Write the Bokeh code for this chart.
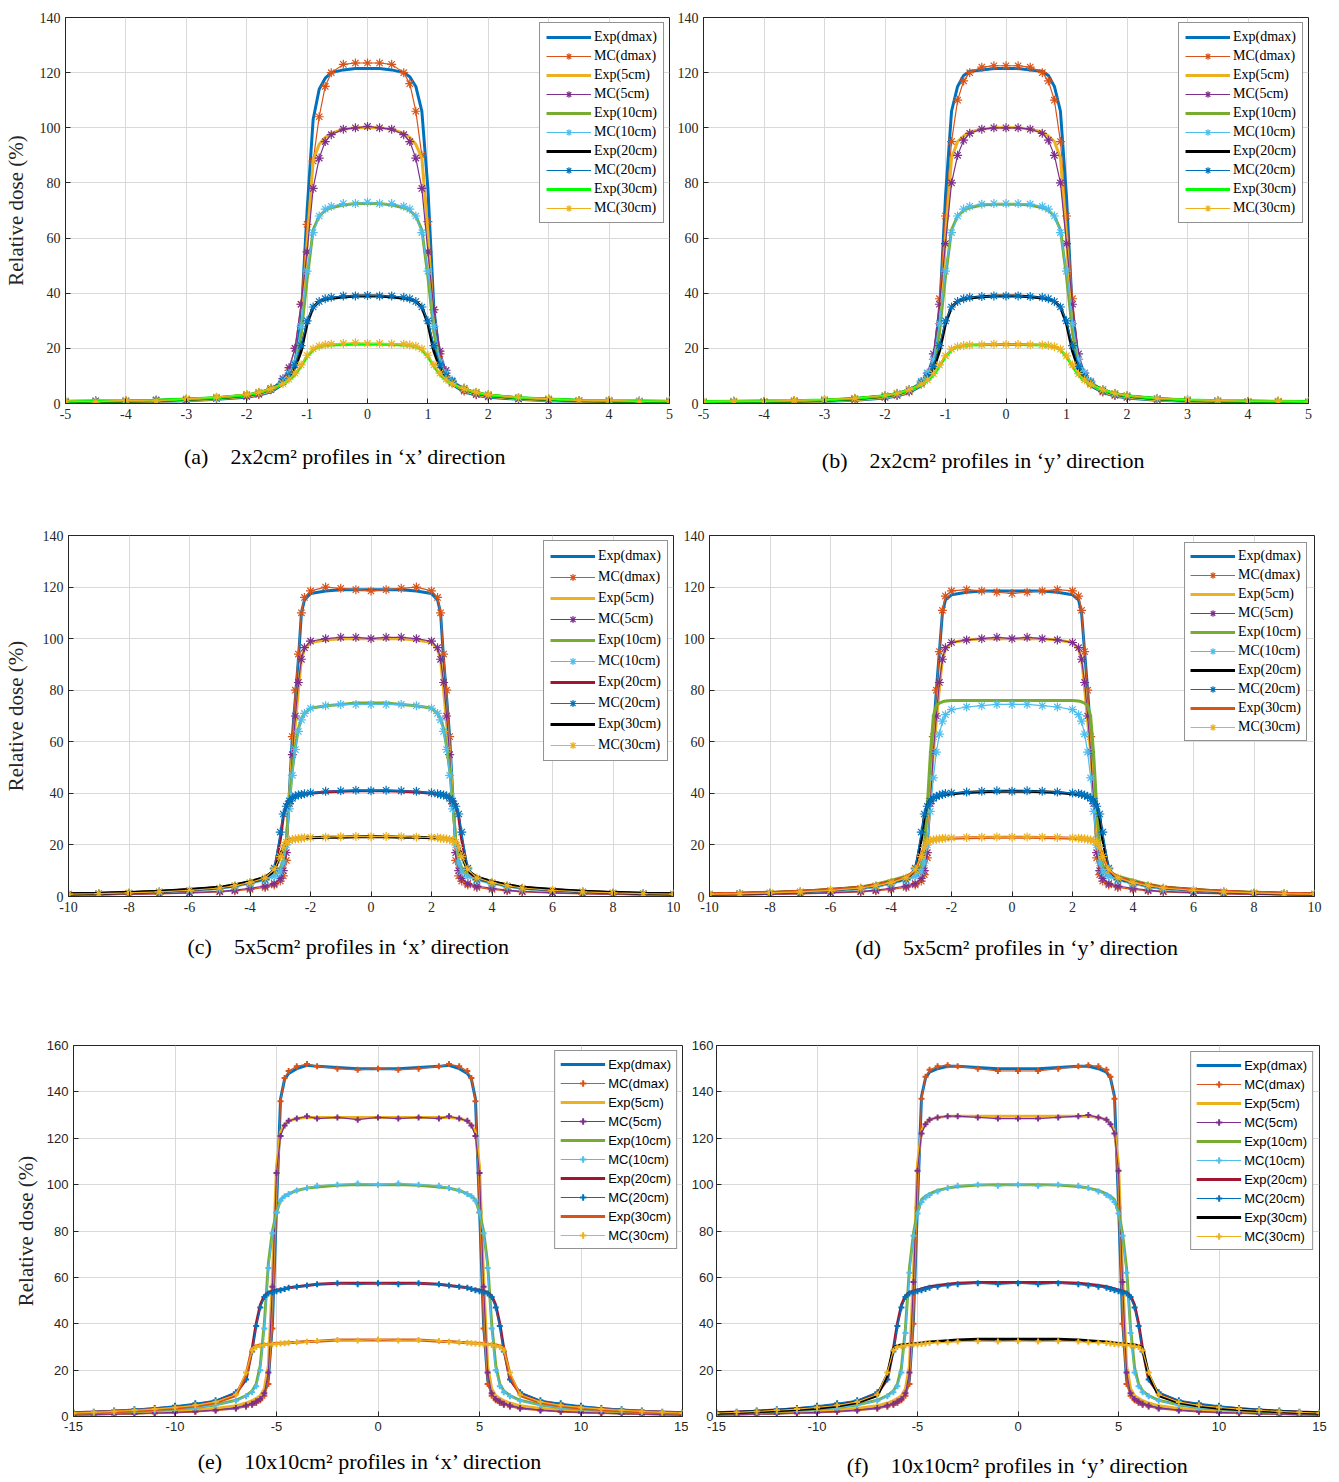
from bokeh.plotting import figure
from bokeh.models import Range1d, Legend, LegendItem, FixedTicker
from bokeh.layouts import column, row
from bokeh.embed import file_html
from bokeh.resources import INLINE

# ---------------- data ----------------
LABELS = ["Exp(dmax)", "MC(dmax)", "Exp(5cm)", "MC(5cm)", "Exp(10cm)", "MC(10cm)",
          "Exp(20cm)", "MC(20cm)", "Exp(30cm)", "MC(30cm)"]

# (a) / (b) 2x2 cm^2
x_ab = [-5, -4.5, -4, -3.5, -3, -2.5, -2, -1.8, -1.6, -1.4, -1.3, -1.2, -1.1, -1.0, -0.9, -0.8, -0.7, -0.6, -0.4, -0.2, 0,
        0.2, 0.4, 0.6, 0.7, 0.8, 0.9, 1.0, 1.1, 1.2, 1.3, 1.4, 1.6, 1.8, 2, 2.5, 3, 3.5, 4, 4.5, 5]
a_exp_dmax = [0.4, 0.5, 0.6, 0.8, 1.0, 1.5, 2.3, 3.0, 4.2, 7, 10, 15, 30, 70, 103, 114, 118, 120, 121, 121.5, 121.5,
              121.5, 121, 120, 118.5, 115, 106, 78, 34, 16, 10, 7, 4.2, 3.0, 2.3, 1.5, 1.0, 0.8, 0.6, 0.5, 0.4]
a_mc_dmax = [0.8, 0.5, 1.0, 0.6, 1.2, 1.8, 2.5, 3.3, 5, 8, 12, 20, 36, 65, 88, 104, 115, 120, 123, 123.5, 123.5,
             123.5, 123, 120, 116, 106, 90, 66, 34, 18, 11, 7.5, 4.5, 3.2, 2.4, 1.6, 1.1, 0.7, 0.9, 0.5, 0.8]
a_exp_5 = [0.5, 0.6, 0.7, 0.9, 1.2, 1.7, 2.6, 3.3, 4.6, 7.5, 10, 14, 24, 58, 88, 94, 96.5, 98, 99.5, 100, 100,
           100, 99.5, 98, 96.5, 94, 89, 62, 26, 14, 10, 7.5, 4.6, 3.3, 2.6, 1.7, 1.2, 0.9, 0.7, 0.6, 0.5]
a_mc_5 = [0.3, 0.8, 0.6, 1.1, 1.3, 1.9, 2.7, 3.5, 5.2, 9, 13, 20, 36, 55, 78, 89, 95, 97.5, 99.5, 100, 100.5,
          100, 99.5, 97.5, 95, 89, 78, 55, 34, 19, 12, 8, 5, 3.4, 2.6, 1.8, 1.3, 1.0, 0.6, 0.8, 0.4]
a_exp_10 = [0.6, 0.7, 0.8, 1.0, 1.4, 1.9, 2.9, 3.7, 5.2, 8, 10.5, 14, 25, 45, 63, 68, 70, 71, 72, 72.5, 72.5,
            72.5, 72, 71, 70, 68, 63, 46, 26, 14, 10.5, 8, 5.2, 3.7, 2.9, 1.9, 1.4, 1.0, 0.8, 0.7, 0.6]
a_mc_10 = [0.9, 0.5, 1.0, 0.8, 1.6, 2.0, 3.1, 3.9, 5.5, 8.5, 11, 15, 28, 48, 62, 68, 70.5, 71.5, 72.5, 72.5, 73,
           72.5, 72.5, 71.5, 70.5, 68, 62, 48, 28, 15, 11, 8.5, 5.5, 3.9, 3.1, 2.1, 1.5, 1.1, 0.7, 1.0, 0.6]
a_exp_20 = [0.7, 0.8, 0.9, 1.1, 1.5, 2.0, 3.0, 3.8, 5.2, 7.5, 9.5, 13, 19, 29, 35, 37, 37.8, 38.2, 38.6, 39, 39,
            39, 38.6, 38.2, 37.8, 37, 35, 29, 19, 13, 9.5, 7.5, 5.2, 3.8, 3.0, 2.0, 1.5, 1.1, 0.9, 0.8, 0.7]
a_mc_20 = [0.5, 1.0, 0.7, 1.3, 1.4, 2.2, 3.2, 4.0, 5.5, 8, 10, 14, 21, 30, 35, 37, 38, 38.5, 39, 39, 39.2,
           39, 39, 38.5, 38, 37, 35, 30, 21, 14, 10, 8, 5.5, 4.0, 3.1, 2.1, 1.6, 1.0, 1.1, 0.6, 0.9]
a_exp_30 = [0.8, 0.9, 1.0, 1.2, 1.6, 2.1, 3.1, 3.9, 5.2, 7, 8.5, 10.5, 13.5, 17, 19.5, 20.5, 21, 21.2, 21.4, 21.5, 21.5,
            21.5, 21.4, 21.2, 21, 20.5, 19.5, 17, 13.5, 10.5, 8.5, 7, 5.2, 3.9, 3.1, 2.1, 1.6, 1.2, 1.0, 0.9, 0.8]
a_mc_30 = [1.0, 0.6, 1.2, 0.9, 1.7, 2.3, 3.3, 4.1, 5.4, 7.2, 8.8, 11, 14, 17.5, 19.8, 20.8, 21.3, 21.5, 21.8, 22, 21.8,
           21.8, 21.6, 21.5, 21.2, 20.8, 19.8, 17.5, 14, 11, 8.8, 7.2, 5.4, 4.1, 3.2, 2.2, 1.7, 1.1, 1.2, 0.7, 1.0]

b_exp_dmax = [0.3, 0.4, 0.5, 0.6, 0.8, 1.2, 2.0, 2.7, 4.0, 6.5, 9.5, 15, 32, 75, 106, 115, 119, 120.5, 121, 121.5, 121.5,
              121.5, 121, 120.5, 119, 115, 106, 75, 32, 15, 9.5, 6.5, 4.0, 2.7, 2.0, 1.2, 0.8, 0.6, 0.5, 0.4, 0.3]
b_mc_dmax = [0.3, 0.5, 0.4, 0.7, 0.9, 1.3, 2.2, 2.9, 4.2, 7, 10, 16, 38, 68, 95, 110, 117, 120, 122, 122.5, 122.5,
             122.5, 122, 120, 117, 110, 95, 68, 38, 16, 10, 7, 4.2, 2.9, 2.2, 1.3, 0.9, 0.7, 0.4, 0.5, 0.3]
b_exp_5 = [0.4, 0.5, 0.6, 0.7, 0.9, 1.4, 2.3, 3.0, 4.3, 7, 9.5, 14, 25, 60, 89, 95, 97, 98.5, 99.5, 100, 100,
           100, 99.5, 98.5, 97, 95, 89, 60, 25, 14, 9.5, 7, 4.3, 3.0, 2.3, 1.4, 0.9, 0.7, 0.6, 0.5, 0.4]
b_mc_5 = [0.4, 0.6, 0.5, 0.8, 1.0, 1.5, 2.4, 3.1, 4.5, 8, 11, 18, 36, 58, 80, 90, 95.5, 98, 99.5, 100, 100,
          100, 99.5, 98, 95.5, 90, 80, 58, 36, 18, 11, 8, 4.5, 3.1, 2.4, 1.5, 1.0, 0.8, 0.5, 0.6, 0.4]
b_exp_10 = [0.5, 0.6, 0.7, 0.8, 1.1, 1.6, 2.6, 3.4, 4.8, 7.5, 10, 14, 26, 46, 63, 68, 70, 71, 72, 72.3, 72.3,
            72.3, 72, 71, 70, 68, 63, 46, 26, 14, 10, 7.5, 4.8, 3.4, 2.6, 1.6, 1.1, 0.8, 0.7, 0.6, 0.5]
b_mc_10 = [0.5, 0.7, 0.6, 0.9, 1.2, 1.7, 2.7, 3.5, 5, 8, 11, 16, 29, 48, 62, 68, 70.5, 71.5, 72.3, 72.5, 72.5,
           72.5, 72.3, 71.5, 70.5, 68, 62, 48, 29, 16, 11, 8, 5, 3.5, 2.7, 1.7, 1.2, 0.9, 0.6, 0.7, 0.5]
b_exp_20 = [0.6, 0.7, 0.8, 0.9, 1.2, 1.7, 2.7, 3.5, 4.9, 7, 9, 12.5, 19, 29, 35, 37, 37.8, 38.3, 38.7, 39, 39,
            39, 38.7, 38.3, 37.8, 37, 35, 29, 19, 12.5, 9, 7, 4.9, 3.5, 2.7, 1.7, 1.2, 0.9, 0.8, 0.7, 0.6]
b_mc_20 = [0.6, 0.8, 0.7, 1.0, 1.3, 1.8, 2.8, 3.6, 5, 7.5, 9.5, 13.5, 21, 30, 35, 37, 38, 38.5, 38.8, 39, 39,
           39, 38.8, 38.5, 38, 37, 35, 30, 21, 13.5, 9.5, 7.5, 5, 3.6, 2.8, 1.8, 1.3, 1.0, 0.7, 0.8, 0.6]
b_exp_30 = [0.7, 0.8, 0.9, 1.0, 1.3, 1.8, 2.8, 3.6, 4.9, 6.8, 8.3, 10.3, 13.5, 17, 19.5, 20.5, 21, 21.2, 21.3, 21.4, 21.4,
            21.4, 21.3, 21.2, 21, 20.5, 19.5, 17, 13.5, 10.3, 8.3, 6.8, 4.9, 3.6, 2.8, 1.8, 1.3, 1.0, 0.9, 0.8, 0.7]
b_mc_30 = [0.7, 0.9, 0.8, 1.1, 1.4, 1.9, 2.9, 3.7, 5, 7, 8.6, 10.8, 14, 17.3, 19.7, 20.6, 21, 21.2, 21.3, 21.5, 21.4,
           21.4, 21.3, 21.2, 21, 20.6, 19.7, 17.3, 14, 10.8, 8.6, 7, 5, 3.7, 2.9, 1.9, 1.4, 1.1, 0.8, 0.9, 0.7]

# (c) / (d) 5x5 cm^2
x_cd = [-10, -9, -8, -7, -6, -5, -4.5, -4, -3.5, -3.2, -3.0, -2.9, -2.8, -2.7, -2.6, -2.5, -2.4, -2.3, -2.2, -2.0, -1.5, -1.0, -0.5, 0,
        0.5, 1, 1.5, 2, 2.2, 2.3, 2.4, 2.5, 2.6, 2.7, 2.8, 2.9, 3.0, 3.2, 3.5, 4, 4.5, 5, 6, 7, 8, 9, 10]
c_exp_dmax = [0.8, 1.0, 1.3, 1.7, 2.3, 3.2, 4.2, 5.5, 7, 8.5, 10, 13, 20, 40, 62, 77, 92, 110, 115, 117.5, 118.5, 119, 119, 119,
              119, 119, 118.5, 117.5, 115, 110, 92, 77, 62, 40, 20, 13, 10, 8.5, 7, 5.5, 4.2, 3.2, 2.3, 1.7, 1.3, 1.0, 0.8]
c_mc_dmax = [0.5, 0.6, 0.8, 1.0, 1.3, 1.8, 2.2, 2.8, 3.5, 4.5, 6, 8, 14, 36, 62, 80, 94, 110, 116, 118.5, 120, 119.5, 119, 118.5,
             119, 119.5, 120, 118.5, 116, 110, 94, 80, 62, 36, 14, 8, 6, 4.5, 3.5, 2.8, 2.2, 1.8, 1.3, 1.0, 0.8, 0.6, 0.5]
c_exp_5 = [0.9, 1.1, 1.4, 1.8, 2.4, 3.3, 4.3, 5.6, 7.2, 8.8, 10.5, 13.5, 21, 38, 55, 67, 80, 92, 96, 98.5, 99.5, 100, 100, 100,
           100, 100, 99.5, 98.5, 96, 92, 80, 67, 55, 38, 21, 13.5, 10.5, 8.8, 7.2, 5.6, 4.3, 3.3, 2.4, 1.8, 1.4, 1.1, 0.9]
c_mc_5 = [0.6, 0.7, 0.9, 1.1, 1.5, 2.0, 2.5, 3.2, 4.0, 5, 7, 10, 17, 36, 55, 70, 83, 92, 96.5, 99, 100, 100.5, 100.5, 100,
          100.5, 100.5, 100, 99, 96.5, 92, 83, 70, 55, 36, 17, 10, 7, 5, 4.0, 3.2, 2.5, 2.0, 1.5, 1.1, 0.9, 0.7, 0.6]
c_exp_10 = [1.0, 1.2, 1.5, 1.9, 2.6, 3.5, 4.5, 5.8, 7.4, 9, 11, 14, 22, 36, 49, 58, 65, 69, 71, 73, 74, 74.5, 75, 75,
            75, 74.5, 74, 73, 71, 69, 65, 58, 49, 36, 22, 14, 11, 9, 7.4, 5.8, 4.5, 3.5, 2.6, 1.9, 1.5, 1.2, 1.0]
c_mc_10 = [0.8, 1.0, 1.2, 1.6, 2.1, 2.9, 3.7, 4.8, 6.2, 7.8, 9.5, 13, 20, 34, 47, 57, 64, 68.5, 71, 73, 74, 74.5, 74.5, 74.5,
           74.5, 74.5, 74, 73, 71, 68.5, 64, 57, 47, 34, 20, 13, 9.5, 7.8, 6.2, 4.8, 3.7, 2.9, 2.1, 1.6, 1.2, 1.0, 0.8]
c_exp_20 = [1.0, 1.2, 1.5, 1.9, 2.6, 3.5, 4.4, 5.6, 7.0, 10, 22, 31, 35.5, 37.5, 38.3, 38.8, 39.2, 39.5, 39.7, 40, 40.5, 40.8, 41, 41,
            41, 40.8, 40.5, 40, 39.7, 39.5, 39.2, 38.8, 38.3, 37.5, 35.5, 31, 22, 10, 7.0, 5.6, 4.4, 3.5, 2.6, 1.9, 1.5, 1.2, 1.0]
c_mc_20 = [0.9, 1.1, 1.3, 1.7, 2.3, 3.1, 4.0, 5.2, 6.6, 11, 25, 32, 35, 37, 38, 39, 39.4, 39.6, 39.8, 40.2, 40.8, 41, 41.2, 41,
           41.2, 41, 40.8, 40.2, 39.8, 39.6, 39.4, 39, 38, 37, 35, 32, 25, 11, 6.6, 5.2, 4.0, 3.1, 2.3, 1.7, 1.3, 1.1, 0.9]
c_exp_30 = [1.1, 1.3, 1.6, 2.0, 2.7, 3.6, 4.5, 5.7, 7.5, 10, 16, 19, 21.3, 22, 22.2, 22.4, 22.5, 22.6, 22.7, 22.8, 23, 23, 23.2, 23.2,
            23.2, 23, 23, 22.8, 22.7, 22.6, 22.5, 22.4, 22.2, 22, 21.3, 19, 16, 10, 7.5, 5.7, 4.5, 3.6, 2.7, 2.0, 1.6, 1.3, 1.1]
c_mc_30 = [0.9, 1.1, 1.4, 1.8, 2.4, 3.3, 4.2, 5.4, 7.2, 10.5, 15.5, 19, 21, 21.8, 22.1, 22.3, 22.5, 22.6, 22.8, 22.9, 23, 23.2, 23.3, 23.2,
           23.3, 23.2, 23, 22.9, 22.8, 22.6, 22.5, 22.3, 22.1, 21.8, 21, 19, 15.5, 10.5, 7.2, 5.4, 4.2, 3.3, 2.4, 1.8, 1.4, 1.1, 0.9]

d_exp_dmax = [0.7, 0.9, 1.2, 1.6, 2.2, 3.1, 4.0, 5.2, 6.8, 8.2, 10, 13, 20, 40, 63, 80, 95, 110, 115, 117, 118, 118.5, 118.5, 118.5,
              118.5, 118.5, 118, 117, 115, 110, 95, 80, 63, 40, 20, 13, 10, 8.2, 6.8, 5.2, 4.0, 3.1, 2.2, 1.6, 1.2, 0.9, 0.7]
d_mc_dmax = [0.5, 0.6, 0.8, 1.0, 1.3, 1.8, 2.2, 2.8, 3.5, 4.5, 6, 8.5, 15, 38, 62, 80, 95, 111, 116.5, 118.5, 119, 118.5, 118, 117.5,
             118, 118.5, 119, 118.5, 116.5, 111, 95, 80, 62, 38, 15, 8.5, 6, 4.5, 3.5, 2.8, 2.2, 1.8, 1.3, 1.0, 0.8, 0.6, 0.5]
d_exp_5 = [0.9, 1.1, 1.4, 1.8, 2.4, 3.3, 4.3, 5.6, 7.2, 8.8, 10.5, 13.5, 21, 38, 56, 68, 81, 92, 96, 98.5, 99.5, 100, 100, 100,
           100, 100, 99.5, 98.5, 96, 92, 81, 68, 56, 38, 21, 13.5, 10.5, 8.8, 7.2, 5.6, 4.3, 3.3, 2.4, 1.8, 1.4, 1.1, 0.9]
d_mc_5 = [0.6, 0.7, 0.9, 1.1, 1.5, 2.0, 2.5, 3.2, 4.0, 5, 7, 10, 17, 36, 56, 70, 83, 92, 96.5, 98.5, 99.5, 100, 100.5, 100,
          100.5, 100, 99.5, 98.5, 96.5, 92, 83, 70, 56, 36, 17, 10, 7, 5, 4.0, 3.2, 2.5, 2.0, 1.5, 1.1, 0.9, 0.7, 0.6]
d_exp_10 = [1.1, 1.3, 1.6, 2.0, 2.7, 3.7, 4.8, 6.2, 7.9, 9.5, 12, 20, 35, 55, 70, 74, 75, 75.5, 75.8, 76, 76, 76, 76, 76,
            76, 76, 76, 76, 75.8, 75.5, 75, 74, 70, 55, 35, 20, 12, 9.5, 7.9, 6.2, 4.8, 3.7, 2.7, 2.0, 1.6, 1.3, 1.1]
d_mc_10 = [0.8, 1.0, 1.2, 1.6, 2.1, 2.9, 3.7, 4.8, 6.2, 7.8, 9.5, 13, 20, 33, 46, 56, 63, 68, 70.5, 72.5, 73.5, 74, 74.5, 74.5,
           74.5, 74, 73.5, 72.5, 70.5, 68, 63, 56, 46, 33, 20, 13, 9.5, 7.8, 6.2, 4.8, 3.7, 2.9, 2.1, 1.6, 1.2, 1.0, 0.8]
d_exp_20 = [1.0, 1.2, 1.5, 1.9, 2.6, 3.5, 4.4, 5.6, 7.0, 10, 22, 31, 35.5, 37.5, 38.2, 38.6, 39, 39.4, 39.6, 39.8, 40.3, 40.6, 40.8, 40.8,
            40.8, 40.6, 40.3, 39.8, 39.6, 39.4, 39, 38.6, 38.2, 37.5, 35.5, 31, 22, 10, 7.0, 5.6, 4.4, 3.5, 2.6, 1.9, 1.5, 1.2, 1.0]
d_mc_20 = [0.9, 1.1, 1.3, 1.7, 2.3, 3.1, 4.0, 5.2, 6.6, 11, 25, 32, 35, 37, 38, 38.8, 39.3, 39.7, 39.9, 40.1, 40.5, 40.8, 41, 40.8,
           41, 40.8, 40.5, 40.1, 39.9, 39.7, 39.3, 38.8, 38, 37, 35, 32, 25, 11, 6.6, 5.2, 4.0, 3.1, 2.3, 1.7, 1.3, 1.1, 0.9]
d_exp_30 = [1.1, 1.3, 1.6, 2.0, 2.7, 3.6, 4.5, 5.7, 7.5, 10, 16, 19, 21.2, 21.8, 22, 22.2, 22.3, 22.4, 22.5, 22.6, 22.8, 22.9, 23, 23,
            23, 22.9, 22.8, 22.6, 22.5, 22.4, 22.3, 22.2, 22, 21.8, 21.2, 19, 16, 10, 7.5, 5.7, 4.5, 3.6, 2.7, 2.0, 1.6, 1.3, 1.1]
d_mc_30 = [0.9, 1.1, 1.4, 1.8, 2.4, 3.3, 4.2, 5.4, 7.2, 10.5, 15.5, 19, 21, 21.7, 22, 22.2, 22.4, 22.5, 22.6, 22.7, 22.9, 23, 23.1, 23,
           23.1, 23, 22.9, 22.7, 22.6, 22.5, 22.4, 22.2, 22, 21.7, 21, 19, 15.5, 10.5, 7.2, 5.4, 4.2, 3.3, 2.4, 1.8, 1.4, 1.1, 0.9]

# (e) / (f) 10x10 cm^2
x_ef = [-15, -14, -13, -12, -11, -10, -9, -8, -7, -6.5, -6.2, -6.0, -5.8, -5.6, -5.4, -5.2, -5.0, -4.8, -4.6, -4.4, -4, -3.5, -3, -2, -1, 0,
        1, 2, 3, 3.5, 4, 4.4, 4.6, 4.8, 5.0, 5.2, 5.4, 5.6, 5.8, 6.0, 6.2, 6.5, 7, 8, 9, 10, 11, 12, 13, 14, 15]
e_exp_dmax = [1.0, 1.1, 1.3, 1.5, 1.8, 2.1, 2.6, 3.2, 4.2, 5.2, 6, 7, 8, 10, 16, 40, 90, 137, 145.5, 148, 150, 151.5, 151, 150.5, 150, 150,
              150, 150.5, 151, 151.5, 150, 148, 145.5, 137, 90, 40, 16, 10, 8, 7, 6, 5.2, 4.2, 3.2, 2.6, 2.1, 1.8, 1.5, 1.3, 1.1, 1.0]
e_mc_dmax = [0.6, 0.8, 0.9, 1.1, 1.3, 1.6, 2.0, 2.5, 3.3, 4.2, 5, 5.8, 7, 9, 14, 38, 88, 136, 146, 149, 151, 152, 151, 150, 149.5, 150,
             149.5, 150, 151, 152, 151, 149, 146, 136, 88, 38, 14, 9, 7, 5.8, 5, 4.2, 3.3, 2.5, 2.0, 1.6, 1.3, 1.1, 0.9, 0.8, 0.6]
e_exp_5 = [1.1, 1.2, 1.4, 1.6, 1.9, 2.3, 2.8, 3.5, 4.6, 5.8, 6.8, 7.8, 9, 12, 22, 60, 108, 122.5, 126, 127.5, 128.5, 129, 129, 129, 129, 129,
           129, 129, 129, 129, 128.5, 127.5, 126, 122.5, 108, 60, 22, 12, 9, 7.8, 6.8, 5.8, 4.6, 3.5, 2.8, 2.3, 1.9, 1.6, 1.4, 1.2, 1.1]
e_mc_5 = [0.7, 0.9, 1.0, 1.2, 1.5, 1.8, 2.2, 2.8, 3.7, 4.7, 5.5, 6.5, 7.5, 10, 19, 56, 105, 121, 125.5, 127.5, 128.5, 129.5, 128.5, 129, 128, 129,
          128.5, 129, 128.5, 129.5, 128.5, 127.5, 125.5, 121, 105, 56, 19, 10, 7.5, 6.5, 5.5, 4.7, 3.7, 2.8, 2.2, 1.8, 1.5, 1.2, 1.0, 0.9, 0.7]
e_exp_10 = [1.4, 1.6, 1.9, 2.3, 2.7, 3.2, 3.9, 5, 7, 9, 11, 14, 22, 40, 66, 80, 88, 93.5, 95, 96, 97.5, 98.5, 99, 99.7, 100, 100,
            100, 99.7, 99, 98.5, 97.5, 96, 95, 93.5, 88, 80, 66, 40, 22, 14, 11, 9, 7, 5, 3.9, 3.2, 2.7, 2.3, 1.9, 1.6, 1.4]
e_mc_10 = [1.3, 1.5, 1.8, 2.2, 2.6, 3.1, 3.8, 4.9, 6.8, 8.7, 10.5, 13, 20, 38, 64, 79, 88, 93, 95, 96, 97.5, 98.5, 99.5, 100, 100.5, 100,
           100.5, 100, 99.5, 98.5, 97.5, 96, 95, 93, 88, 79, 64, 38, 20, 13, 10.5, 8.7, 6.8, 4.9, 3.8, 3.1, 2.6, 2.2, 1.8, 1.5, 1.3]
e_exp_20 = [1.6, 1.9, 2.3, 2.8, 3.3, 4, 5, 6.5, 10, 16, 29, 40, 48, 52, 53.5, 54, 54.5, 54.8, 55, 55.5, 56, 56.5, 57, 57.5, 57.5, 57.5,
            57.5, 57.5, 57, 56.5, 56, 55.5, 55, 54.8, 54.5, 54, 53.5, 52, 48, 40, 29, 16, 10, 6.5, 5, 4, 3.3, 2.8, 2.3, 1.9, 1.6]
e_mc_20 = [1.7, 2.1, 2.6, 3.1, 3.7, 4.6, 5.7, 7, 10.5, 16, 28, 39, 47, 51.5, 53, 53.5, 54, 54.5, 55, 55.5, 56, 56.5, 57, 57.5, 57, 57.5,
           57, 57.5, 57, 56.5, 56, 55.5, 55, 54.5, 54, 53.5, 53, 51.5, 47, 39, 28, 16, 10.5, 7, 5.7, 4.6, 3.7, 3.1, 2.6, 2.1, 1.7]
e_exp_30 = [1.4, 1.7, 2.1, 2.5, 3, 3.6, 4.5, 6, 9, 18, 29.5, 30.5, 30.8, 31, 31.2, 31.4, 31.5, 31.6, 31.7, 31.8, 32, 32.3, 32.5, 33, 33, 33,
            33, 33, 32.5, 32.3, 32, 31.8, 31.7, 31.6, 31.5, 31.4, 31.2, 31, 30.8, 30.5, 29.5, 18, 9, 6, 4.5, 3.6, 3, 2.5, 2.1, 1.7, 1.4]
e_mc_30 = [1.5, 1.8, 2.2, 2.7, 3.2, 3.9, 4.8, 6.3, 9.5, 19, 28.5, 30, 30.5, 30.8, 31, 31.2, 31.3, 31.5, 31.6, 31.8, 32, 32.2, 32.6, 33, 32.8, 33.2,
           32.8, 33, 32.6, 32.2, 32, 31.8, 31.6, 31.5, 31.3, 31.2, 31, 30.8, 30.5, 30, 28.5, 19, 9.5, 6.3, 4.8, 3.9, 3.2, 2.7, 2.2, 1.8, 1.5]

f_exp_dmax = [1.0, 1.1, 1.3, 1.5, 1.8, 2.1, 2.6, 3.2, 4.2, 5.2, 6, 7, 8, 10, 16, 42, 92, 138, 146, 148.5, 150, 151, 151, 150.5, 150, 150,
              150, 150.5, 151, 151, 150, 148.5, 146, 138, 92, 42, 16, 10, 8, 7, 6, 5.2, 4.2, 3.2, 2.6, 2.1, 1.8, 1.5, 1.3, 1.1, 1.0]
f_mc_dmax = [0.6, 0.8, 0.9, 1.1, 1.3, 1.6, 2.0, 2.5, 3.3, 4.2, 5, 5.8, 7, 9, 14, 40, 90, 137, 146.5, 149.5, 151, 151.5, 151, 150, 149, 149,
             149, 150, 151, 151.5, 151, 149.5, 146.5, 137, 90, 40, 14, 9, 7, 5.8, 5, 4.2, 3.3, 2.5, 2.0, 1.6, 1.3, 1.1, 0.9, 0.8, 0.6]
f_exp_5 = [1.1, 1.2, 1.4, 1.6, 1.9, 2.3, 2.8, 3.5, 4.6, 5.8, 6.8, 7.8, 9, 12, 22, 62, 109, 123, 126.5, 128, 129, 129.5, 129.5, 129.5, 129.5, 129.5,
           129.5, 129.5, 129.5, 129.5, 129, 128, 126.5, 123, 109, 62, 22, 12, 9, 7.8, 6.8, 5.8, 4.6, 3.5, 2.8, 2.3, 1.9, 1.6, 1.4, 1.2, 1.1]
f_mc_5 = [0.7, 0.9, 1.0, 1.2, 1.5, 1.8, 2.2, 2.8, 3.7, 4.7, 5.5, 6.5, 7.5, 10, 19, 58, 106, 122, 126, 128, 129, 129.5, 129.5, 129, 128.5, 128.5,
          128.5, 129, 129.5, 130, 129, 128, 126, 122, 106, 58, 19, 10, 7.5, 6.5, 5.5, 4.7, 3.7, 2.8, 2.2, 1.8, 1.5, 1.2, 1.0, 0.9, 0.7]
f_exp_10 = [1.4, 1.6, 1.9, 2.3, 2.7, 3.2, 3.9, 5, 7, 9, 11, 14, 21, 38, 64, 79, 88, 93.5, 95, 96, 97.5, 98.5, 99.2, 99.8, 100, 100,
            100, 99.8, 99.2, 98.5, 97.5, 96, 95, 93.5, 88, 79, 64, 38, 21, 14, 11, 9, 7, 5, 3.9, 3.2, 2.7, 2.3, 1.9, 1.6, 1.4]
f_mc_10 = [1.3, 1.5, 1.8, 2.2, 2.6, 3.1, 3.8, 4.9, 6.8, 8.7, 10.5, 13, 19, 36, 62, 78, 87.5, 92.5, 94.5, 95.5, 97, 98.5, 99.5, 100, 99.5, 100,
           99.5, 100, 99.5, 98.5, 97, 95.5, 94.5, 92.5, 87.5, 78, 62, 36, 19, 13, 10.5, 8.7, 6.8, 4.9, 3.8, 3.1, 2.6, 2.2, 1.8, 1.5, 1.3]
f_exp_20 = [1.6, 1.9, 2.3, 2.8, 3.3, 4, 5, 6.5, 10, 16, 29, 40, 48, 52, 53.5, 54, 54.5, 55, 55.5, 56, 56.5, 57, 57.5, 57.8, 57.8, 57.8,
            57.8, 57.8, 57.5, 57, 56.5, 56, 55.5, 55, 54.5, 54, 53.5, 52, 48, 40, 29, 16, 10, 6.5, 5, 4, 3.3, 2.8, 2.3, 1.9, 1.6]
f_mc_20 = [1.7, 2.1, 2.6, 3.1, 3.7, 4.6, 5.7, 7, 10.5, 16, 28, 39, 47, 51.5, 53, 53.5, 54, 54.5, 55, 55.5, 56, 56.5, 57, 57.5, 57, 57.5,
           57, 57.5, 57, 56.5, 56, 55.5, 55, 54.5, 54, 53.5, 53, 51.5, 47, 39, 28, 16, 10.5, 7, 5.7, 4.6, 3.7, 3.1, 2.6, 2.1, 1.7]
f_exp_30 = [1.4, 1.7, 2.1, 2.5, 3, 3.6, 4.5, 6, 9, 18, 29.5, 30.5, 30.8, 31, 31.2, 31.4, 31.5, 31.7, 31.9, 32.1, 32.4, 32.7, 33, 33.3, 33.3, 33.3,
            33.3, 33.3, 33, 32.7, 32.4, 32.1, 31.9, 31.7, 31.5, 31.4, 31.2, 31, 30.8, 30.5, 29.5, 18, 9, 6, 4.5, 3.6, 3, 2.5, 2.1, 1.7, 1.4]
f_mc_30 = [1.5, 1.8, 2.2, 2.7, 3.2, 3.9, 4.8, 6.3, 9.5, 19, 28.5, 30, 30.3, 30.6, 30.8, 31, 31.1, 31.3, 31.5, 31.7, 31.9, 32, 32.3, 32.5, 32.3, 32.5,
           32.3, 32.5, 32.3, 32, 31.9, 31.7, 31.5, 31.3, 31.1, 31, 30.8, 30.6, 30.3, 30, 28.5, 19, 9.5, 6.3, 4.8, 3.9, 3.2, 2.7, 2.2, 1.8, 1.5]

xticks_ab = [-5, -4, -3, -2, -1, 0, 1, 2, 3, 4, 5]
xticks_cd = [-10, -8, -6, -4, -2, 0, 2, 4, 6, 8, 10]
xticks_ef = [-15, -10, -5, 0, 5, 10, 15]
yticks_140 = [0, 20, 40, 60, 80, 100, 120, 140]
yticks_160 = [0, 20, 40, 60, 80, 100, 120, 140, 160]

CAPTIONS = ["(a)\u20032x2cm\u00b2 profiles in \u2018x\u2019 direction\u2003\u2003",
            "(b)\u20032x2cm\u00b2 profiles in \u2018y\u2019 direction\u2003\u2003",
            "(c)\u20035x5cm\u00b2 profiles in \u2018x\u2019 direction\u2003\u2003",
            "\u2002(d)\u20035x5cm\u00b2 profiles in \u2018y\u2019 direction",
            "(e)\u200310x10cm\u00b2 profiles in \u2018x\u2019 direction\u2002\u2009",
            "(f)\u200310x10cm\u00b2 profiles in \u2018y\u2019 direction"]

# ---------------- styling ----------------
BLUE = "#0072BD"; ORANGE = "#D95319"; YELLOW = "#EDB120"; PURPLE = "#7E2F8E"
GREEN = "#77AC30"; CYAN = "#4DBEEE"; DRED = "#A2142F"; LIME = "#00FF00"; BLACK = "#000000"
MC_COLORS = [ORANGE, PURPLE, CYAN, BLUE, YELLOW]
AX = "#262626"


def make_panel(x, exps, mcs, exp_cols, xr, yr, xt, yt, caption, cap_standoff,
               serif, w, h, bl, br, bt, bb, ylabel, ylab_standoff,
               leg_h, leg_sp, leg_pad, leg_margin, marker, msize, mlw, ytick_standoff=5):
    font = "Liberation Serif" if serif else "Liberation Sans"
    tsize = "14px" if serif else "13px"
    p = figure(width=w, height=h,
               x_range=Range1d(xr[0], xr[1]), y_range=Range1d(yr[0], yr[1]),
               output_backend="svg", toolbar_location=None,
               min_border_left=bl, min_border_right=br, min_border_top=bt, min_border_bottom=bb)
    p.background_fill_color = "white"
    p.border_fill_color = "white"
    p.outline_line_color = AX
    p.outline_line_width = 1

    p.xaxis.ticker = FixedTicker(ticks=xt)
    p.yaxis.ticker = FixedTicker(ticks=yt)
    p.xgrid.ticker = FixedTicker(ticks=xt)
    p.ygrid.ticker = FixedTicker(ticks=yt)
    p.xaxis.major_label_overrides = {t: str(t) for t in xt}
    p.yaxis.major_label_overrides = {t: str(t) for t in yt}
    for ax in list(p.xaxis) + list(p.yaxis):
        ax.major_tick_in = 5
        ax.major_tick_out = 0
        ax.minor_tick_in = 0
        ax.minor_tick_out = 0
        ax.axis_line_color = AX
        ax.major_tick_line_color = AX
        ax.major_label_text_font = font
        ax.major_label_text_color = AX
        ax.major_label_text_font_size = tsize
        ax.major_label_standoff = 5
    p.yaxis.major_label_standoff = ytick_standoff

    # caption below the x axis
    p.xaxis.axis_label = caption
    p.xaxis.axis_label_text_font = "Liberation Serif"
    p.xaxis.axis_label_text_font_size = "22px"
    p.xaxis.axis_label_text_font_style = "normal"
    p.xaxis.axis_label_text_color = "#000000"
    p.xaxis.axis_label_standoff = cap_standoff

    if ylabel:
        p.yaxis.axis_label = "Relative dose (%)"
        p.yaxis.axis_label_text_font = "Liberation Serif"
        p.yaxis.axis_label_text_font_size = "21px"
        p.yaxis.axis_label_text_font_style = "normal"
        p.yaxis.axis_label_text_color = "#262626"
        p.yaxis.axis_label_standoff = ylab_standoff

    p.grid.grid_line_color = "#d9d9d9"
    p.grid.grid_line_width = 1

    items = []
    for i in range(5):
        le = p.line(x, exps[i], line_color=exp_cols[i], line_width=3)
        lm = p.line(x, mcs[i], line_color=MC_COLORS[i], line_width=1.2)
        sm = p.scatter(x, mcs[i], marker=marker, size=msize, line_color=MC_COLORS[i],
                       fill_color=MC_COLORS[i], line_width=mlw)
        items.append(LegendItem(label=LABELS[2 * i], renderers=[le]))
        items.append(LegendItem(label=LABELS[2 * i + 1], renderers=[lm, sm]))
    leg = Legend(items=items, location="top_right",
                 label_text_font=font, label_text_font_size=tsize, label_text_color="#000000",
                 label_height=leg_h, glyph_height=leg_h, glyph_width=45, spacing=leg_sp,
                 padding=leg_pad, margin=leg_margin, label_standoff=3,
                 border_line_color=AX, border_line_width=1,
                 background_fill_color="white", background_fill_alpha=1.0)
    p.add_layout(leg)
    return p


pa = make_panel(x_ab, [a_exp_dmax, a_exp_5, a_exp_10, a_exp_20, a_exp_30],
                [a_mc_dmax, a_mc_5, a_mc_10, a_mc_20, a_mc_30],
                [BLUE, YELLOW, GREEN, BLACK, LIME], (-5, 5), (0, 140), xticks_ab, yticks_140,
                CAPTIONS[0], 22, True, 674, 505, 63, 5, 17, 102, True, 9,
                16, 3, 6, 5, "asterisk", 9, 1.2)
pb = make_panel(x_ab, [b_exp_dmax, b_exp_5, b_exp_10, b_exp_20, b_exp_30],
                [b_mc_dmax, b_mc_5, b_mc_10, b_mc_20, b_mc_30],
                [BLUE, YELLOW, GREEN, BLACK, LIME], (-5, 5), (0, 140), xticks_ab, yticks_140,
                CAPTIONS[1], 26, True, 644, 505, 29, 10, 17, 102, False, 9,
                16, 3, 6, 5, "asterisk", 9, 1.2)
pc = make_panel(x_cd, [c_exp_dmax, c_exp_5, c_exp_10, c_exp_20, c_exp_30],
                [c_mc_dmax, c_mc_5, c_mc_10, c_mc_20, c_mc_30],
                [BLUE, YELLOW, GREEN, DRED, BLACK], (-10, 10), (0, 140), xticks_cd, yticks_140,
                CAPTIONS[2], 19, True, 680, 509, 66, 7, 30, 118, True, 12,
                18, 3, 6, 5, "asterisk", 9, 1.2)
pd_ = make_panel(x_cd, [d_exp_dmax, d_exp_5, d_exp_10, d_exp_20, d_exp_30],
                 [d_mc_dmax, d_mc_5, d_mc_10, d_mc_20, d_mc_30],
                 [BLUE, YELLOW, GREEN, BLACK, ORANGE], (-10, 10), (0, 140), xticks_cd, yticks_140,
                 CAPTIONS[3], 20, True, 642, 509, 26, 8, 30, 118, False, 9,
                 16, 3, 5, 7, "asterisk", 9, 1.2)
pe = make_panel(x_ef, [e_exp_dmax, e_exp_5, e_exp_10, e_exp_20, e_exp_30],
                [e_mc_dmax, e_mc_5, e_mc_10, e_mc_20, e_mc_30],
                [BLUE, YELLOW, GREEN, DRED, ORANGE], (-15, 15), (0, 160), xticks_ef, yticks_160,
                CAPTIONS[4], 15, False, 688, 466, 73, 6, 31, 64, True, 6,
                16, 3, 5, 5, "cross", 6, 2)
pf = make_panel(x_ef, [f_exp_dmax, f_exp_5, f_exp_10, f_exp_20, f_exp_30],
                [f_mc_dmax, f_mc_5, f_mc_10, f_mc_20, f_mc_30],
                [BLUE, YELLOW, GREEN, DRED, BLACK], (-15, 15), (0, 160), xticks_ef, yticks_160,
                CAPTIONS[5], 19, False, 639, 466, 25, 8, 31, 64, False, 9,
                16, 3, 5, 6, "cross", 6, 2, ytick_standoff=3)

layout = column(row(pa, pb), row(pc, pd_), row(pe, pf))
open("out.html", "w").write(file_html(layout, INLINE))
